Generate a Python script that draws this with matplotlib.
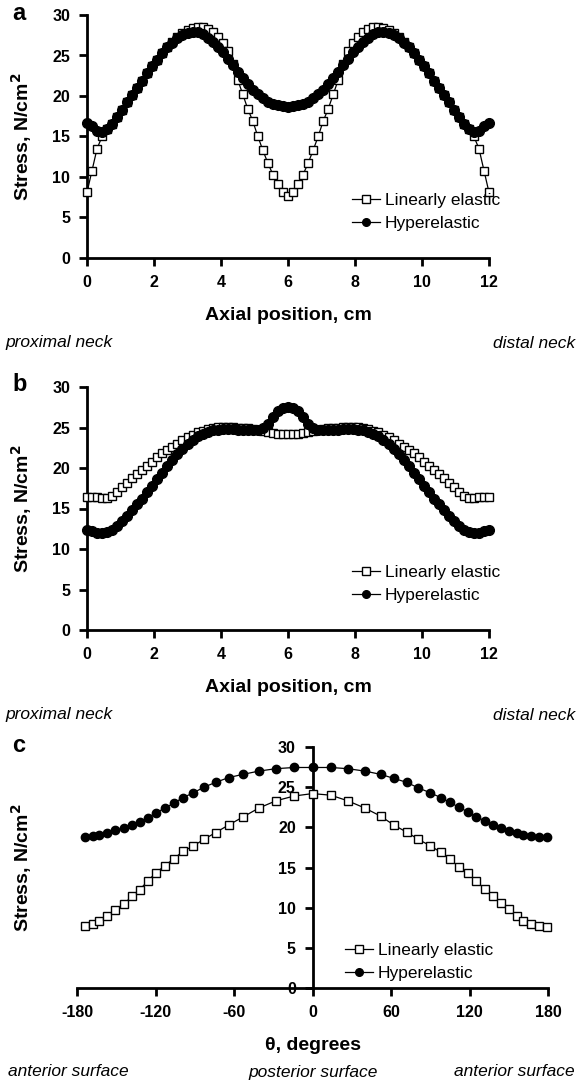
import numpy as np
import matplotlib.pyplot as plt

plt.rcParams['font.family'] = ['Liberation Sans', 'DejaVu Sans']
plt.rcParams['axes.unicode_minus'] = False

# axial positions along the neck, cm
axial = np.linspace(0, 12, 81)

# a) stress along the neck
lin_a = [8.1, 10.8, 13.5, 15.0, 15.9, 16.6, 17.4, 18.3, 19.2, 20.1, 21.0, 21.9, 22.8, 23.7,
         24.5, 25.3, 26.0, 26.7, 27.3, 27.8, 28.1, 28.4, 28.5, 28.5, 28.3, 27.9, 27.3, 26.5,
         25.5, 24.0, 22.0, 20.2, 18.4, 16.9, 15.0, 13.3, 11.7, 10.3, 9.1, 8.1, 7.6,
         8.1, 9.1, 10.3, 11.7, 13.3, 15.0, 16.9, 18.4, 20.2, 22.0, 24.0, 25.5, 26.5, 27.3,
         27.9, 28.3, 28.5, 28.5, 28.4, 28.1, 27.8, 27.3, 26.7, 26.0, 25.3, 24.5, 23.7, 22.8,
         21.9, 21.0, 20.1, 19.2, 18.3, 17.4, 16.6, 15.9, 15.0, 13.5, 10.8, 8.1]
hyp_a = [16.7, 16.3, 15.7, 15.5, 15.9, 16.6, 17.4, 18.3, 19.2, 20.1, 21.0, 21.9, 22.8, 23.7,
         24.5, 25.3, 26.0, 26.6, 27.1, 27.5, 27.75, 27.9, 27.85, 27.6, 27.2, 26.7, 26.1, 25.4,
         24.6, 23.8, 23.0, 22.2, 21.5, 20.8, 20.2, 19.7, 19.3, 19.0, 18.85, 18.75, 18.7,
         18.75, 18.85, 19.0, 19.3, 19.7, 20.2, 20.8, 21.5, 22.2, 23.0, 23.8, 24.6, 25.4, 26.1,
         26.7, 27.2, 27.6, 27.85, 27.9, 27.75, 27.5, 27.1, 26.6, 26.0, 25.3, 24.5, 23.7, 22.8,
         21.9, 21.0, 20.1, 19.2, 18.3, 17.4, 16.6, 15.9, 15.5, 15.7, 16.3, 16.7]

# b) stress along the neck
lin_b = [16.4, 16.4, 16.4, 16.3, 16.3, 16.5, 17.0, 17.6, 18.2, 18.8, 19.3, 19.8, 20.3, 20.8,
         21.3, 21.8, 22.2, 22.6, 23.0, 23.4, 23.8, 24.1, 24.4, 24.6, 24.8, 24.95, 25.05, 25.1,
         25.1, 25.1, 25.0, 24.95, 24.9, 24.8, 24.7, 24.55, 24.4, 24.3, 24.25, 24.2, 24.2,
         24.2, 24.25, 24.3, 24.4, 24.55, 24.7, 24.8, 24.9, 24.95, 25.0, 25.1, 25.1, 25.1, 25.05,
         24.95, 24.8, 24.6, 24.4, 24.1, 23.8, 23.4, 23.0, 22.6, 22.2, 21.8, 21.3, 20.8, 20.3,
         19.8, 19.3, 18.8, 18.2, 17.6, 17.0, 16.5, 16.3, 16.3, 16.4, 16.4, 16.4]
hyp_b = [12.4, 12.2, 12.0, 11.95, 12.1, 12.4, 12.9, 13.4, 14.1, 14.8, 15.5, 16.2, 17.0, 17.8,
         18.6, 19.4, 20.2, 21.0, 21.7, 22.4, 23.0, 23.5, 23.9, 24.2, 24.5, 24.65, 24.75, 24.8,
         24.8, 24.8, 24.75, 24.7, 24.7, 24.7, 24.7, 24.9, 25.4, 26.3, 27.0, 27.4, 27.5,
         27.4, 27.0, 26.3, 25.4, 24.9, 24.7, 24.7, 24.7, 24.7, 24.75, 24.8, 24.8, 24.8, 24.75,
         24.65, 24.5, 24.2, 23.9, 23.5, 23.0, 22.4, 21.7, 21.0, 20.2, 19.4, 18.6, 17.8, 17.0,
         16.2, 15.5, 14.8, 14.1, 13.4, 12.9, 12.4, 12.1, 11.95, 12.0, 12.2, 12.4]

# c) stress around the circumference
theta = [-174, -168, -163, -157, -151, -144, -138, -132, -126, -120, -113, -106, -99, -91,
         -83, -74, -64, -53, -41, -28, -14, 0, 14, 27, 40, 52, 62, 72, 81, 90, 98, 105, 112,
         119, 125, 132, 138, 144, 150, 156, 161, 167, 173, 179]
lin_c = [7.7, 7.95, 8.4, 9.0, 9.7, 10.5, 11.4, 12.25, 13.3, 14.3, 15.2, 16.1, 17.0, 17.7,
         18.5, 19.35, 20.3, 21.3, 22.4, 23.3, 23.9, 24.2, 24.0, 23.3, 22.4, 21.4, 20.3, 19.4,
         18.5, 17.7, 16.9, 16.0, 15.1, 14.3, 13.3, 12.3, 11.4, 10.6, 9.8, 9.0, 8.4, 7.95,
         7.7, 7.65]
hyp_c = [18.8, 18.9, 19.1, 19.35, 19.65, 19.9, 20.3, 20.7, 21.2, 21.75, 22.4, 23.0, 23.7,
         24.3, 25.0, 25.6, 26.2, 26.6, 27.0, 27.3, 27.45, 27.45, 27.45, 27.3, 27.0, 26.6,
         26.1, 25.6, 24.9, 24.3, 23.7, 23.1, 22.5, 21.9, 21.3, 20.8, 20.3, 19.9, 19.5, 19.25,
         19.05, 18.9, 18.8, 18.75]

W, H = 579, 1083
fig = plt.figure(figsize=(W / 100, H / 100), dpi=100)


def box(x0, x1, ytop, ybot):
    return [x0 / W, 1 - ybot / H, (x1 - x0) / W, (ybot - ytop) / H]


def txt(x, y, s, **kw):
    fig.text(x / W, 1 - y / H, s, **kw)


def style(ax):
    for s in ['top', 'right']:
        ax.spines[s].set_visible(False)
    for s in ['left', 'bottom']:
        ax.spines[s].set_linewidth(2)
    ax.tick_params(direction='out', length=6, width=2, pad=6, labelsize=11.5)
    for lab in ax.get_xticklabels() + ax.get_yticklabels():
        lab.set_fontweight('bold')
    ax.set_ylim(0, 30)
    ax.set_yticks(range(0, 31, 5))


def curves(ax, x, lin, hyp, ms_sq, ms_dot):
    ax.plot(x, lin, '-', color='black', lw=0.9, marker='s', ms=ms_sq, mfc='white',
            mec='black', mew=1, label='Linearly elastic', clip_on=False, zorder=3)
    ax.plot(x, hyp, '-', color='black', lw=0.9, marker='o', ms=ms_dot, mfc='black',
            mec='black', label='Hyperelastic', clip_on=False, zorder=4)


def legend(ax, x, y):
    leg = ax.legend(loc='center left', bbox_to_anchor=(x / W, 1 - y / H),
                    bbox_transform=fig.transFigure, frameon=False, fontsize=12.5,
                    handlelength=1.6, handletextpad=0.3, labelspacing=0.45,
                    borderpad=0, borderaxespad=0)
    for h in leg.legend_handles:
        h.set_markersize(5.5)


ylab = 'Stress, N/cm$^{\\mathbf{2}}$'

# panels a and b
for tag, top, lin, hyp in [('a', 15, lin_a, hyp_a), ('b', 387, lin_b, hyp_b)]:
    bot = top + 243
    ax = fig.add_axes(box(87, 489, top, bot))
    curves(ax, axial, lin, hyp, 5.8, 7)
    ax.set_xlim(0, 12)
    ax.set_xticks(range(0, 13, 2))
    style(ax)
    legend(ax, 352, bot - 46)
    txt(12, top - 2, tag, fontsize=17, fontweight='bold', va='center')
    txt(22, (top + bot) / 2, ylab, fontsize=14, fontweight='bold', rotation=90,
        ha='center', va='center')
    txt(288, bot + 58, 'Axial position, cm', fontsize=14, fontweight='bold',
        ha='center', va='center')
    txt(5, bot + 85, 'proximal neck', fontsize=12.5, style='italic', va='center')
    txt(575, bot + 85, 'distal neck', fontsize=12.5, style='italic', ha='right',
        va='center')

# panel c
ax = fig.add_axes(box(77, 548, 747, 988))
curves(ax, theta, lin_c, hyp_c, 5.5, 6)
ax.set_xlim(-180, 180)
ax.set_xticks(range(-180, 181, 60))
ax.spines['left'].set_position(('data', 0))
style(ax)
legend(ax, 345, 962)
txt(12, 746, 'c', fontsize=17, fontweight='bold', va='center')
txt(22, 868, ylab, fontsize=14, fontweight='bold', rotation=90, ha='center', va='center')
txt(313, 1045, 'θ, degrees', fontsize=14, fontweight='bold', ha='center', va='center')
txt(8, 1072, 'anterior surface', fontsize=12.5, style='italic', va='center')
txt(313, 1072, 'posterior surface', fontsize=12.5, style='italic', ha='center',
    va='center')
txt(575, 1072, 'anterior surface', fontsize=12.5, style='italic', ha='right', va='center')

fig.savefig('out.png', dpi=100)
